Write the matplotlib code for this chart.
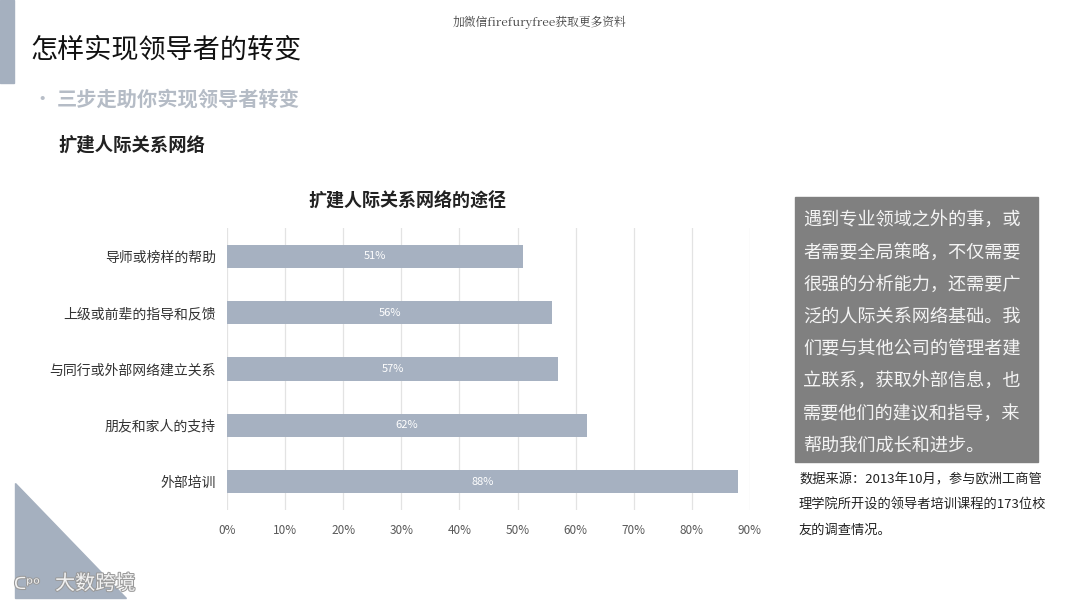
import matplotlib
matplotlib.use("Agg")
import matplotlib.pyplot as plt
from matplotlib.patches import Rectangle, Polygon
import matplotlib.patheffects as pe

plt.rcParams['font.family'] = ['Noto Sans CJK SC', 'DejaVu Sans']

categories = ["导师或榜样的帮助", "上级或前辈的指导和反馈", "与同行或外部网络建立关系", "朋友和家人的支持", "外部培训"]
values = [51, 56, 57, 62, 88]
xticks = [0, 10, 20, 30, 40, 50, 60, 70, 80, 90]
xtick_labels = [f"{t}%" for t in xticks]

W, H = 1080, 607
fig = plt.figure(figsize=(W / 100, H / 100), dpi=100)
fig.patch.set_facecolor("white")

def fx(x):
    return x / W

def fy(y):
    return 1 - y / H

# decorative left bar
fig.patches.append(Rectangle((0, fy(83)), fx(14), 83 / H, transform=fig.transFigure,
                             color="#a5b0bf", zorder=0))
# bottom-left triangle
fig.patches.append(Polygon([(fx(15), fy(483)), (fx(15), fy(598)), (fx(126), fy(598))],
                           closed=True, transform=fig.transFigure, color="#a5b0bf", zorder=0))

# header texts
fig.text(fx(540), fy(22), "加微信firefuryfree获取更多资料", ha="center", va="center",
         fontsize=8.5, color="#444444", family=['Noto Serif CJK SC', 'Noto Sans CJK SC', 'DejaVu Serif'])
fig.text(fx(30), fy(50), "怎样实现领导者的转变", ha="left", va="center", fontsize=19.5, color="#111111")
fig.text(fx(32), fy(99), "•", ha="left", va="center", fontsize=14, color="#b8bec8")
fig.text(fx(57), fy(99), "三步走助你实现领导者转变", ha="left", va="center", fontsize=14.6,
         color="#b5bcc6", fontweight="bold")
fig.text(fx(58), fy(145), "扩建人际关系网络", ha="left", va="center", fontsize=13.2,
         color="#222222", fontweight="bold")

# chart
ax = fig.add_axes([fx(227), fy(510), fx(750) - fx(227), (510 - 228) / H])
ypos = list(range(len(categories)))
bars = ax.barh(ypos, values, height=0.41, color="#a6b1c1", zorder=2)
for y, v in zip(ypos, values):
    ax.text(v / 2, y, f"{v}%", ha="center", va="center", fontsize=8, color="white", zorder=3)
ax.set_xlim(0, 90)
ax.set_ylim(len(categories) - 0.5, -0.5)
ax.set_xticks(xticks)
ax.set_xticklabels(xtick_labels, fontsize=8.5, color="#595959")
ax.set_yticks(ypos)
ax.set_yticklabels(categories, fontsize=10, color="#333333")
ax.tick_params(axis="both", length=0)
ax.tick_params(axis="x", pad=10)
ax.tick_params(axis="y", pad=8)
ax.grid(axis="x", color="#e3e3e3", linewidth=0.9, zorder=0)
for s in ax.spines.values():
    s.set_visible(False)
ax.set_facecolor("none")
fig.text(fx(407), fy(201), "扩建人际关系网络的途径", ha="center", va="center", fontsize=13,
         color="#222222", fontweight="bold")

# gray text box
fig.patches.append(Rectangle((fx(795), fy(462)), fx(1038) - fx(795), (462 - 197) / H,
                             transform=fig.transFigure, color="#808080", zorder=1))
box_lines = ["遇到专业领域之外的事，或", "者需要全局策略，不仅需要", "很强的分析能力，还需要广",
             "泛的人际关系网络基础。我", "们要与其他公司的管理者建", "立联系，获取外部信息，也",
             "需要他们的建议和指导，来", "帮助我们成长和进步。"]
for i, line in enumerate(box_lines):
    fig.text(fx(803), fy(220 + i * 32.3), line, ha="left", va="center", fontsize=13.1,
             color="#f4f4f4", zorder=2)

src_lines = ["数据来源：2013年10月，参与欧洲工商管", "理学院所开设的领导者培训课程的173位校", "友的调查情况。"]
for i, line in enumerate(src_lines):
    fig.text(fx(799), fy(480 + i * 25), line, ha="left", va="center", fontsize=9.5, color="#222222")

# watermark logo
t = fig.text(fx(55), fy(584), "大数跨境", ha="left", va="center", fontsize=14.5, color="#f2f2f2")
t.set_path_effects([pe.withStroke(linewidth=1.5, foreground="#9a9a9a")])
t2 = fig.text(fx(14), fy(584), "ᑕᵖᵒ", ha="left", va="center", fontsize=12, color="#f2f2f2",
              family=['DejaVu Sans'])
t2.set_path_effects([pe.withStroke(linewidth=1.5, foreground="#9a9a9a")])

fig.savefig("out.png", dpi=100, facecolor="white")
